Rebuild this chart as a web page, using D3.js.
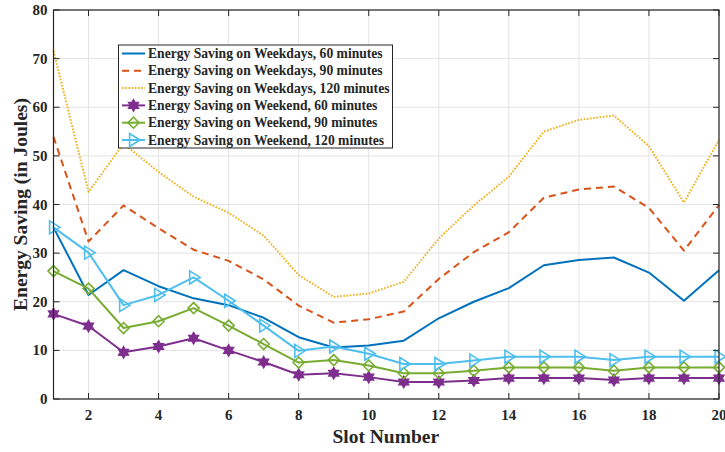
<!DOCTYPE html>
<html>
<head>
<meta charset="utf-8">
<script src="https://cdn.jsdelivr.net/npm/d3@7"></script>
<style>
  html, body { margin: 0; padding: 0; background: #fff; }
  svg { display: block; }
  text { font-family: "Liberation Serif", "Times New Roman", serif; font-weight: bold; fill: #262626; }
</style>
</head>
<body>
<svg id="chart" width="725" height="452"></svg>
<script>
// Slot numbers on the x axis
const slots = d3.range(1, 21);

// Energy saving per slot (Joules)
const weekday60  = [35.3, 21.4, 26.5, 23.2, 20.7, 19.3, 16.7, 12.7, 10.6, 11.0, 12.0, 16.6, 20.0, 22.8, 27.5, 28.6, 29.1, 26.0, 20.2, 26.5];
const weekday90  = [53.9, 32.4, 39.8, 35.1, 30.7, 28.4, 24.6, 19.2, 15.7, 16.4, 18.0, 24.7, 30.2, 34.3, 41.4, 43.1, 43.7, 39.3, 30.5, 39.9];
const weekday120 = [71.6, 42.6, 52.5, 46.7, 41.6, 38.3, 33.6, 25.5, 21.0, 21.7, 24.1, 33.0, 39.8, 45.7, 55.0, 57.4, 58.3, 52.0, 40.4, 53.3];
const weekend60  = [17.5, 15.0, 9.6, 10.8, 12.5, 10.0, 7.6, 5.0, 5.3, 4.5, 3.5, 3.5, 3.8, 4.3, 4.3, 4.3, 3.9, 4.3, 4.3, 4.3];
const weekend90  = [26.3, 22.7, 14.6, 16.0, 18.7, 15.1, 11.3, 7.5, 8.0, 6.9, 5.3, 5.3, 5.8, 6.5, 6.5, 6.5, 5.8, 6.5, 6.5, 6.5];
const weekend120 = [35.3, 30.1, 19.3, 21.4, 25.0, 20.2, 15.1, 9.9, 10.8, 9.3, 7.2, 7.2, 7.9, 8.7, 8.7, 8.7, 8.0, 8.7, 8.7, 8.7];

const seriesNames = [
  "Energy Saving on Weekdays, 60 minutes",
  "Energy Saving on Weekdays, 90 minutes",
  "Energy Saving on Weekdays, 120 minutes",
  "Energy Saving on Weekend, 60 minutes",
  "Energy Saving on Weekend, 90 minutes",
  "Energy Saving on Weekend, 120 minutes"
];

const xTicks = [2, 4, 6, 8, 10, 12, 14, 16, 18, 20];
const yTicks = [0, 10, 20, 30, 40, 50, 60, 70, 80];

const xTitle = "Slot Number";
const yTitle = "Energy Saving (in Joules)";

// Series styling
const series = [
  { name: seriesNames[0], values: weekday60,  color: "#0072BD", dash: null,      marker: null },
  { name: seriesNames[1], values: weekday90,  color: "#D95319", dash: "7,5",     marker: null },
  { name: seriesNames[2], values: weekday120, color: "#EDB120", dash: "1.6,1.6", marker: null },
  { name: seriesNames[3], values: weekend60,  color: "#7E2F8E", dash: null,      marker: "hexagram" },
  { name: seriesNames[4], values: weekend90,  color: "#77AC30", dash: null,      marker: "diamond" },
  { name: seriesNames[5], values: weekend120, color: "#4DBEEE", dash: null,      marker: "triangle" }
];

const svg = d3.select("#chart");
const plotL = 53.5, plotR = 719, plotT = 10, plotB = 399;

const x = d3.scaleLinear().domain([1, 20]).range([plotL, plotR]);
const y = d3.scaleLinear().domain([0, 80]).range([plotB, plotT]);

// Grid
const grid = svg.append("g");
grid.selectAll("line.gx").data(xTicks).join("line")
  .attr("x1", d => x(d)).attr("x2", d => x(d))
  .attr("y1", plotT).attr("y2", plotB)
  .attr("stroke", "#e3e3e3").attr("stroke-width", 1);
grid.selectAll("line.gy").data(yTicks).join("line")
  .attr("x1", plotL).attr("x2", plotR)
  .attr("y1", d => y(d)).attr("y2", d => y(d))
  .attr("stroke", "#e3e3e3").attr("stroke-width", 1);

// Marker shapes
function markerPath(type, s) {
  if (type === "hexagram") {
    const pts = [];
    for (let i = 0; i < 12; i++) {
      const a = Math.PI / 6 * i - Math.PI / 2;
      const r = i % 2 === 0 ? s : s * 0.58;
      pts.push([r * Math.cos(a), r * Math.sin(a)]);
    }
    return "M" + pts.map(p => p.join(",")).join("L") + "Z";
  }
  if (type === "diamond") {
    return `M0,${-s}L${s},0L0,${s}L${-s},0Z`;
  }
  if (type === "triangle") {
    return `M${s},0L${-s * 0.6},${-s}L${-s * 0.6},${s}Z`;
  }
  return "";
}

// Lines and markers
const line = d3.line().x((d, i) => x(slots[i])).y(d => y(d));
const plot = svg.append("g");
series.forEach(s => {
  plot.append("path")
    .attr("d", line(s.values))
    .attr("fill", "none")
    .attr("stroke", s.color)
    .attr("stroke-width", 2)
    .attr("stroke-dasharray", s.dash)
    .attr("stroke-linejoin", "round");
  if (s.marker) {
    plot.selectAll(null).data(s.values).join("path")
      .attr("transform", (d, i) => `translate(${x(slots[i])},${y(d)})`)
      .attr("d", markerPath(s.marker, s.marker === "triangle" ? 6.5 : 5.5))
      .attr("fill", s.marker === "hexagram" ? s.color : "none")
      .attr("stroke", s.color)
      .attr("stroke-width", 1.6);
  }
});

// Axes (inward ticks, full box)
const axColor = "#262626";
const ax = svg.append("g");
ax.append("rect")
  .attr("x", plotL).attr("y", plotT)
  .attr("width", plotR - plotL).attr("height", plotB - plotT)
  .attr("fill", "none").attr("stroke", axColor).attr("stroke-width", 1.2);

ax.selectAll("line.tx").data(xTicks).join("line")
  .attr("x1", d => x(d)).attr("x2", d => x(d))
  .attr("y1", plotB).attr("y2", plotB - 6)
  .attr("stroke", axColor);
ax.selectAll("line.tx2").data(xTicks).join("line")
  .attr("x1", d => x(d)).attr("x2", d => x(d))
  .attr("y1", plotT).attr("y2", plotT + 6)
  .attr("stroke", axColor);
ax.selectAll("line.ty").data(yTicks).join("line")
  .attr("x1", plotL).attr("x2", plotL + 6)
  .attr("y1", d => y(d)).attr("y2", d => y(d))
  .attr("stroke", axColor);
ax.selectAll("line.ty2").data(yTicks).join("line")
  .attr("x1", plotR).attr("x2", plotR - 6)
  .attr("y1", d => y(d)).attr("y2", d => y(d))
  .attr("stroke", axColor);

ax.selectAll("text.xl").data(xTicks).join("text")
  .attr("x", d => x(d)).attr("y", 420)
  .attr("text-anchor", "middle")
  .attr("font-size", 15)
  .text(d => d);
ax.selectAll("text.yl").data(yTicks).join("text")
  .attr("x", 47.5).attr("y", d => y(d) + 5)
  .attr("text-anchor", "end")
  .attr("font-size", 15)
  .text(d => d);

svg.append("text")
  .attr("x", (plotL + plotR) / 2 - 0.5).attr("y", 443)
  .attr("text-anchor", "middle")
  .attr("font-size", 19.5)
  .text(xTitle);
svg.append("text")
  .attr("transform", `translate(26.5,${(plotT + plotB) / 2}) rotate(-90)`)
  .attr("text-anchor", "middle")
  .attr("font-size", 19.5)
  .text(yTitle);

// Legend
const lg = svg.append("g");
lg.append("rect")
  .attr("x", 118.5).attr("y", 45)
  .attr("width", 274).attr("height", 103)
  .attr("fill", "#fff").attr("stroke", axColor).attr("stroke-width", 1);
series.forEach((s, i) => {
  const cy = 53.5 + i * 17.3;
  lg.append("line")
    .attr("x1", 122).attr("x2", 145)
    .attr("y1", cy).attr("y2", cy)
    .attr("stroke", s.color).attr("stroke-width", 2)
    .attr("stroke-dasharray", s.dash);
  if (s.marker) {
    lg.append("path")
      .attr("transform", `translate(133.5,${cy})`)
      .attr("d", markerPath(s.marker, s.marker === "triangle" ? 6.5 : 5.5))
      .attr("fill", s.marker === "hexagram" ? s.color : "none")
      .attr("stroke", s.color).attr("stroke-width", 1.6);
  }
  lg.append("text")
    .attr("x", 148).attr("y", cy + 4.5)
    .attr("font-size", 13.6)
    .attr("fill", "#000")
    .text(s.name);
});
</script>
</body>
</html>
